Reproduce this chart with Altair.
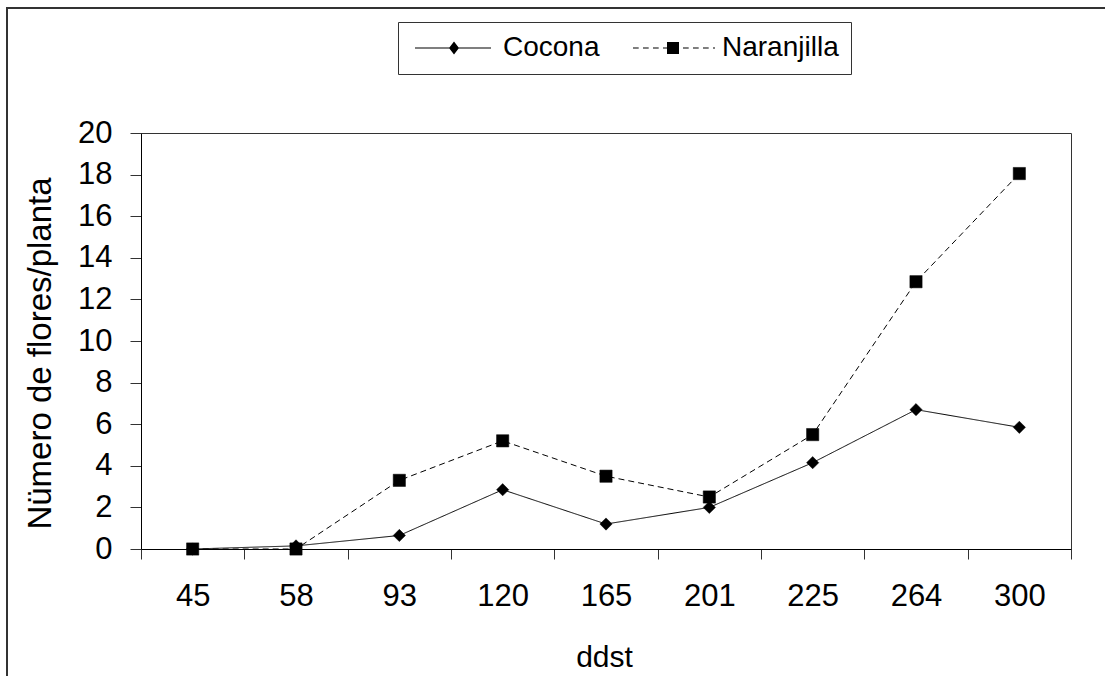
import altair as alt
import pandas as pd

# ---- data ----
days = ["45", "58", "93", "120", "165", "201", "225", "264", "300"]
cocona = [0.0, 0.15, 0.65, 2.85, 1.2, 2.0, 4.15, 6.7, 5.85]
naranjilla = [0.0, 0.0, 3.3, 5.2, 3.5, 2.5, 5.5, 12.85, 18.05]
series_names = ["Cocona", "Naranjilla"]
y_ticks = [0, 2, 4, 6, 8, 10, 12, 14, 16, 18, 20]

rows = []
for d, c, n in zip(days, cocona, naranjilla):
    rows.append({"ddst": d, "serie": "Cocona", "valor": c})
    rows.append({"ddst": d, "serie": "Naranjilla", "valor": n})
df = pd.DataFrame(rows)

FONT = "Liberation Sans"

# ---- legend symbols (line + marker) as filled custom paths, units of r = 12 px ----
R = 12.0
LW = 0.55  # half line thickness in px


def u(px):
    return round(px / R, 4)


def seg(a, b):
    # a thin filled bar standing in for a 1px line segment
    return (f"M{u(a)},{u(-LW)}L{u(b)},{u(-LW)}L{u(b)},{u(LW)}L{u(a)},{u(LW)}Z")


# Cocona: solid line, diamond marker (px relative to symbol centre)
c_mid = 30
leg_cocona = seg(-9, 67) + (
    f"M{u(c_mid)},{u(-6.5)}L{u(c_mid + 5)},0L{u(c_mid)},{u(6.5)}L{u(c_mid - 5)},0Z"
)

# Naranjilla: dashed line, square marker
n_mid = 30
half = 6
parts = []
pos = -10.0
end = 72.0
dash, gap = 5.7, 4.3
while pos < end:
    a, b = pos, min(pos + dash, end)
    if b <= n_mid - half or a >= n_mid + half:
        parts.append(seg(a, b))
    else:
        if a < n_mid - half:
            parts.append(seg(a, n_mid - half))
        if b > n_mid + half:
            parts.append(seg(n_mid + half, b))
    pos += dash + gap
leg_naranjilla = "".join(parts) + (
    f"M{u(n_mid - half)},{u(-half)}L{u(n_mid + half)},{u(-half)}"
    f"L{u(n_mid + half)},{u(half)}L{u(n_mid - half)},{u(half)}Z"
)

x_enc = alt.X(
    "ddst:N",
    sort=days,
    scale=alt.Scale(type="band", paddingInner=0, paddingOuter=0),
    axis=alt.Axis(
        title="ddst", labelAngle=0, tickBand="extent", tickSize=10,
        labelPadding=22, titlePadding=31, labelFontSize=31, titleFontSize=30,
        labelFont=FONT, titleFont=FONT, titleFontWeight="normal",
        labelColor="black", titleColor="black", domainColor="black",
        tickColor="#333", grid=False, titleX=463,
    ),
)
y_enc = alt.Y(
    "valor:Q",
    scale=alt.Scale(domain=[0, 20], nice=False, zero=True),
    axis=alt.Axis(
        title="Nümero de flores/planta", values=y_ticks, tickSize=11,
        labelPadding=18, titlePadding=20, labelFontSize=31, titleFontSize=33,
        labelFont=FONT, titleFont=FONT, titleFontWeight="normal",
        labelColor="black", titleColor="black", domainColor="black",
        tickColor="#333", grid=False, titleY=220,
    ),
)

base = alt.Chart(df)

lines = base.mark_line(color="black", strokeWidth=1).encode(
    x=x_enc, y=y_enc,
    strokeDash=alt.StrokeDash(
        "serie:N",
        scale=alt.Scale(domain=series_names, range=[[1, 0], [6, 4]]),
        legend=None,
    ),
)

points = base.mark_point(filled=True, fill="black", stroke="black", strokeWidth=0.5,
                         size=150, opacity=1).encode(
    x=x_enc, y=y_enc,
    shape=alt.Shape(
        "serie:N",
        scale=alt.Scale(domain=series_names, range=["diamond", "square"]),
        legend=None,
    ),
)

legend_layer = base.mark_point(filled=True, fill="black", opacity=1).encode(
    x=x_enc, y=y_enc,
    size=alt.value(0),
    shape=alt.Shape(
        "serie:N",
        scale=alt.Scale(domain=series_names, range=[leg_cocona, leg_naranjilla]),
        legend=alt.Legend(
            title=None, orient="none", legendX=257, legendY=-111,
            direction="horizontal", symbolSize=int(R * R * 4),
            symbolStrokeWidth=0, symbolFillColor="black", symbolOpacity=1,
            labelFontSize=28, labelFont=FONT, labelColor="black",
            padding=12, strokeColor="#333", fillColor="white",
            columnPadding=29, labelOffset=65,
        ),
    ),
)

frame = alt.Chart(pd.DataFrame({"k": [0]})).mark_rect(
    filled=False, stroke="#333", strokeWidth=2
).encode(
    x=alt.value(-134), x2=alt.value(1200), y=alt.value(-125), y2=alt.value(700)
)

chart = alt.layer(frame, lines, points, legend_layer).resolve_scale(
    shape="independent"
).properties(
    width=930, height=416,
    autosize=alt.AutoSizeParams(type="none"),
    padding={"left": 141, "top": 133, "right": 34, "bottom": 127},
    background="white",
).configure_view(stroke="#333", strokeWidth=1)

chart.save("out.html", embed_options={"renderer": "svg", "actions": False})
